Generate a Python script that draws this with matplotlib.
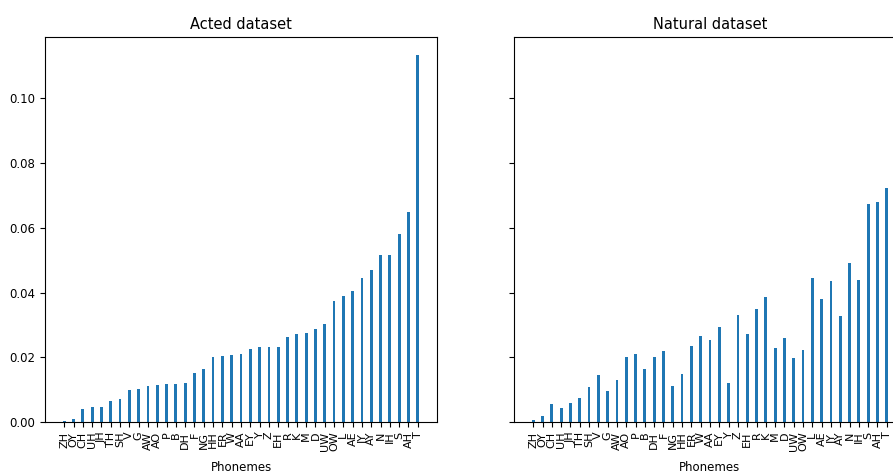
import matplotlib
matplotlib.use("Agg")
import matplotlib.pyplot as plt
import numpy as np

phonemes = ["ZH", "OY", "CH", "UH", "JH", "TH", "SH", "V", "G", "AW", "AO", "P", "B",
            "DH", "F", "NG", "HH", "ER", "W", "AA", "EY", "Y", "Z", "EH", "R", "K",
            "M", "D", "UW", "OW", "L", "AE", "IY", "AY", "N", "IH", "S", "AH", "T"]

acted = [0.0004, 0.0010, 0.0040, 0.0046, 0.0046, 0.0065, 0.0071, 0.0099, 0.0102,
         0.0111, 0.0114, 0.0117, 0.0117, 0.0120, 0.0151, 0.0163, 0.0200, 0.0203,
         0.0206, 0.0210, 0.0225, 0.0231, 0.0231, 0.0231, 0.0262, 0.0271, 0.0274,
         0.0287, 0.0302, 0.0373, 0.0389, 0.0404, 0.0444, 0.0469, 0.0515, 0.0515,
         0.0580, 0.0648, 0.1133]

natural = [0.0006, 0.0018, 0.0055, 0.0043, 0.0059, 0.0074, 0.0108, 0.0145, 0.0096,
           0.0130, 0.0201, 0.0210, 0.0164, 0.0201, 0.0219, 0.0111, 0.0148, 0.0235,
           0.0265, 0.0253, 0.0293, 0.0120, 0.0330, 0.0272, 0.0349, 0.0386, 0.0228,
           0.0259, 0.0197, 0.0222, 0.0444, 0.0380, 0.0435, 0.0327, 0.0491, 0.0438,
           0.0673, 0.0679, 0.0722]

titles = ["Acted dataset", "Natural dataset"]

W, H = 893, 474
fig = plt.figure(figsize=(W / 100, H / 100), dpi=100)
ax1 = fig.add_axes([45 / W, 52 / H, 392 / W, 385 / H])
ax2 = fig.add_axes([514 / W, 52 / H, 392 / W, 385 / H], sharey=ax1)

x = np.arange(len(phonemes))
for ax, vals, title in zip([ax1, ax2], [acted, natural], titles):
    ax.bar(x, vals, width=0.3, color="#1f77b4")
    ax.set_xticks(x)
    ax.set_xticklabels(phonemes, rotation=90, fontsize=8)
    ax.set_xlabel("Phonemes", fontsize=8.5, labelpad=7)
    ax.set_title(title, fontsize=10.5)
    ax.tick_params(axis="y", labelsize=8.5)

ax1.set_yticks([0.0, 0.02, 0.04, 0.06, 0.08, 0.10])
ax1.set_yticklabels(["0.00", "0.02", "0.04", "0.06", "0.08", "0.10"])
plt.setp(ax2.get_yticklabels(), visible=False)

fig.savefig("out.png", dpi=100)
